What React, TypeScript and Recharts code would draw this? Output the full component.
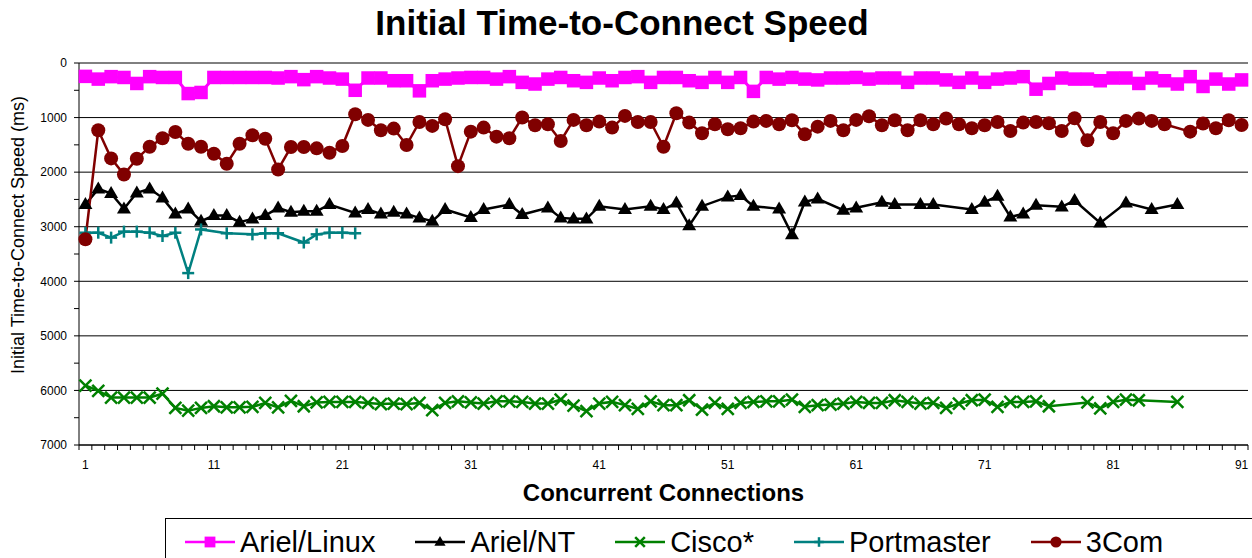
import React from 'react';
import { LineChart, Line, XAxis, YAxis, CartesianGrid, Label } from 'recharts';

// categories: concurrent connections 1..91
const connections = Array.from({ length: 91 }, (_, i) => i + 1);

const arielLinux = [
  245, 295, 250, 265, 375, 250, 265, 265, 560, 540,
  265, 265, 265, 265, 265, 275, 250, 305, 250, 275,
  295, 500, 275, 275, 325, 325, 510, 325, 295, 275,
  265, 265, 295, 250, 355, 385, 295, 265, 325, 355,
  275, 325, 265, 250, 355, 265, 265, 325, 355, 265,
  355, 265, 520, 265, 295, 265, 295, 310, 275, 275,
  265, 295, 275, 275, 355, 275, 275, 310, 355, 275,
  355, 295, 275, 250, 480, 375, 275, 295, 295, 325,
  275, 275, 375, 275, 325, 385, 250, 430, 295, 385,
  310,
];

const arielNT = [
  2593, 2306, 2391, 2673, 2379, 2306, 2471, 2765, 2673, 2899,
  2795, 2795, 2917, 2856, 2795, 2654, 2734, 2716, 2716, 2593,
  null, 2746, 2685, 2765, 2734, 2765, 2838, 2899, 2685, null,
  2830, 2685, null, 2593, 2777, null, 2654, 2838, 2856, 2856,
  2624, null, 2685, null, 2624, 2685, 2563, 2979, 2624, null,
  2453, 2428, 2624, null, 2673, 3144, 2544, 2489, null, 2697,
  2654, null, 2550, 2593, null, 2593, 2593, null, null, 2685,
  2550, 2440, 2820, 2765, 2605, null, 2636, 2520, null, 2930,
  null, 2563, null, 2685, null, 2593,
];

const cisco = [
  5910, 6010, 6130, 6130, 6130, 6130, 6060, 6320, 6370, 6320,
  6290, 6310, 6310, 6300, 6230, 6310, 6190, 6290, 6220, 6210,
  6210, 6210, 6230, 6250, 6240, 6250, 6230, 6360, 6230, 6200,
  6220, 6240, 6200, 6200, 6210, 6240, 6240, 6170, 6280, 6380,
  6240, 6210, 6270, 6340, 6200, 6270, 6270, 6180, 6350, 6230,
  6340, 6230, 6210, 6200, 6200, 6170, 6300, 6270, 6260, 6240,
  6210, 6230, 6230, 6180, 6210, 6240, 6230, 6320, 6240, 6180,
  6170, 6300, 6210, 6210, 6200, 6290, null, null, 6220, 6330,
  6210, 6170, 6180, null, null, 6210,
];

const portmaster = [
  3110, 3110, 3200, 3090, 3090, 3110, 3170, 3110, 3850, 3050,
  null, 3120, null, 3140, 3120, 3120, null, 3290, 3140, 3110,
  3110, 3120,
];

const threeCom = [
  3230, 1233, 1748, 2043, 1755, 1534, 1380, 1264, 1479, 1534,
  1663, 1847, 1479, 1325, 1387, 1951, 1540, 1540, 1564, 1644,
  1521, 939, 1043, 1233, 1202, 1503, 1080, 1153, 1031, 1890,
  1258, 1184, 1350, 1380, 1000, 1141, 1123, 1429, 1043, 1141,
  1074, 1184, 969, 1080, 1080, 1534, 920, 1092, 1288, 1123,
  1215, 1196, 1074, 1061, 1123, 1049, 1307, 1166, 1061, 1233,
  1043, 975, 1141, 1049, 1233, 1049, 1123, 1018, 1123, 1196,
  1141, 1080, 1245, 1092, 1080, 1104, 1245, 1012, 1417, 1080,
  1288, 1061, 1018, 1061, 1123, null, 1258, 1110, 1196, 1049,
  1135,
];

const xLabels = [1, 11, 21, 31, 41, 51, 61, 71, 81, 91];
const yTicks = [0, 500, 1000, 1500, 2000, 2500, 3000, 3500, 4000, 4500, 5000, 5500, 6000, 6500, 7000];
const yGrid = [0, 1000, 2000, 3000, 4000, 5000, 6000, 7000];

// tick marks sit between categories
const xTickMarks = [0, ...connections].map((c) => c + 0.5);

const series = [
  { key: 'linux', name: 'Ariel/Linux', color: '#FF00FF', marker: 'square', values: arielLinux },
  { key: 'nt', name: 'Ariel/NT', color: '#000000', marker: 'triangle', values: arielNT },
  { key: 'cisco', name: 'Cisco*', color: '#008000', marker: 'cross', values: cisco },
  { key: 'port', name: 'Portmaster', color: '#008080', marker: 'plus', values: portmaster },
  { key: 'com', name: '3Com', color: '#800000', marker: 'circle', values: threeCom },
];

const data = connections.map((c, i) => {
  const row: any = { c };
  series.forEach((s) => {
    row[s.key] = s.values[i] ?? null;
  });
  return row;
});

const FONT = "Arial, 'Liberation Sans', sans-serif";
const W = 1252;
const H = 558;
const PLOT_LEFT = 79;
const PLOT_RIGHT = 1248;
const HALF_CAT = (PLOT_RIGHT - PLOT_LEFT) / connections.length / 2;

function Marker({ kind, cx, cy, color, k = 1 }: any) {
  if (kind === 'square') {
    const s = 13.5 * k;
    return <rect x={cx - s / 2} y={cy - s / 2} width={s} height={s} fill={color} />;
  }
  if (kind === 'triangle') {
    const w = 14 * k;
    const h = 12 * k;
    const pts = `${cx},${cy - h * 0.62} ${cx - w / 2},${cy + h * 0.38} ${cx + w / 2},${cy + h * 0.38}`;
    return <polygon points={pts} fill={color} />;
  }
  if (kind === 'circle') {
    return <circle cx={cx} cy={cy} r={7 * k} fill={color} />;
  }
  const d = 6 * k;
  if (kind === 'cross') {
    return (
      <g stroke={color} strokeWidth={2.5}>
        <line x1={cx - d} y1={cy - d} x2={cx + d} y2={cy + d} />
        <line x1={cx - d} y1={cy + d} x2={cx + d} y2={cy - d} />
      </g>
    );
  }
  return (
    <g stroke={color} strokeWidth={2.5}>
      <line x1={cx - d} y1={cy} x2={cx + d} y2={cy} />
      <line x1={cx} y1={cy - d} x2={cx} y2={cy + d} />
    </g>
  );
}

function makeDot(kind: string, color: string) {
  return (props: any) => {
    const { cx, cy, index, value } = props;
    if (value == null || typeof cy !== 'number' || isNaN(cy)) return <g key={`${kind}-${index}`} />;
    return (
      <g key={`${kind}-${index}`}>
        <Marker kind={kind} cx={cx} cy={cy} color={color} />
      </g>
    );
  };
}

function XTick(props: any) {
  const { x, y, payload } = props;
  const cat = payload.value + 0.5;
  if (!xLabels.includes(cat)) return <g />;
  return (
    <text x={x + HALF_CAT} y={y} dy={17} textAnchor="middle" fontSize={12} fontFamily={FONT} fill="#000">
      {cat}
    </text>
  );
}

function LegendBox() {
  return (
    <div
      style={{
        position: 'absolute',
        left: 165,
        top: 518,
        width: 1200,
        height: 60,
        border: '1px solid #000',
        boxSizing: 'border-box',
        display: 'flex',
        alignItems: 'flex-start',
        paddingLeft: 19,
        gap: 40,
        fontFamily: FONT,
      }}
    >
      {series.map((s) => (
        <div key={s.key} style={{ display: 'flex', alignItems: 'center', height: 46 }}>
          <svg width={50} height={20} style={{ marginRight: 5 }}>
            <line x1={0} y1={10} x2={50} y2={10} stroke={s.color} strokeWidth={2.5} />
            <Marker kind={s.marker} cx={25} cy={10} color={s.color} k={0.8} />
          </svg>
          <span style={{ fontSize: 29, lineHeight: 1, color: '#000' }}>{s.name}</span>
        </div>
      ))}
    </div>
  );
}

export default function App() {
  return (
    <div style={{ position: 'absolute', left: 0, top: 0, width: W, height: H, overflow: 'hidden', background: '#fff' }}>
      <div
        style={{
          position: 'absolute',
          left: 0,
          top: 3,
          width: W - 8,
          textAlign: 'center',
          fontFamily: FONT,
          fontWeight: 'bold',
          fontSize: 35,
          lineHeight: '40px',
          color: '#000',
        }}
      >
        Initial Time-to-Connect Speed
      </div>
      <LineChart
        width={W}
        height={H}
        data={data}
        margin={{ top: 63, right: W - PLOT_RIGHT, bottom: 53, left: 0 }}
      >
        <CartesianGrid vertical={false} horizontalValues={yGrid} stroke="#000" strokeWidth={1} />
        <XAxis
          dataKey="c"
          type="number"
          domain={[0.5, 91.5]}
          ticks={xTickMarks}
          interval={0}
          tick={XTick}
          tickSize={5}
          tickLine={{ stroke: '#000' }}
          axisLine={{ stroke: '#000' }}
          height={60}
        >
          <Label
            content={() => (
              <text x={663.5} y={501} textAnchor="middle" fontSize={24} fontWeight="bold" fontFamily={FONT} fill="#000">
                Concurrent Connections
              </text>
            )}
          />
        </XAxis>
        <YAxis
          type="number"
          reversed
          domain={[0, 7000]}
          ticks={yTicks}
          interval={0}
          tickFormatter={(v: number) => (v % 1000 === 0 ? String(v) : '')}
          tick={{ fontSize: 12, fontFamily: FONT, fill: '#000' }}
          tickSize={5}
          tickMargin={7}
          tickLine={{ stroke: '#000' }}
          axisLine={{ stroke: '#000' }}
          width={PLOT_LEFT}
        >
          <Label
            content={() => (
              <text
                transform="translate(18,235) rotate(-90)"
                textAnchor="middle"
                dominantBaseline="central"
                fontSize={18}
                fontFamily={FONT}
                fill="#000"
              >
                Initial Time-to-Connect Speed (ms)
              </text>
            )}
          />
        </YAxis>
        {series.map((s) => (
          <Line
            key={s.key}
            type="linear"
            dataKey={s.key}
            name={s.name}
            stroke={s.color}
            strokeWidth={s.key === 'linux' ? 3 : 2.5}
            dot={makeDot(s.marker, s.color)}
            activeDot={false}
            connectNulls
            isAnimationActive={false}
          />
        ))}
      </LineChart>
      <LegendBox />
    </div>
  );
}
